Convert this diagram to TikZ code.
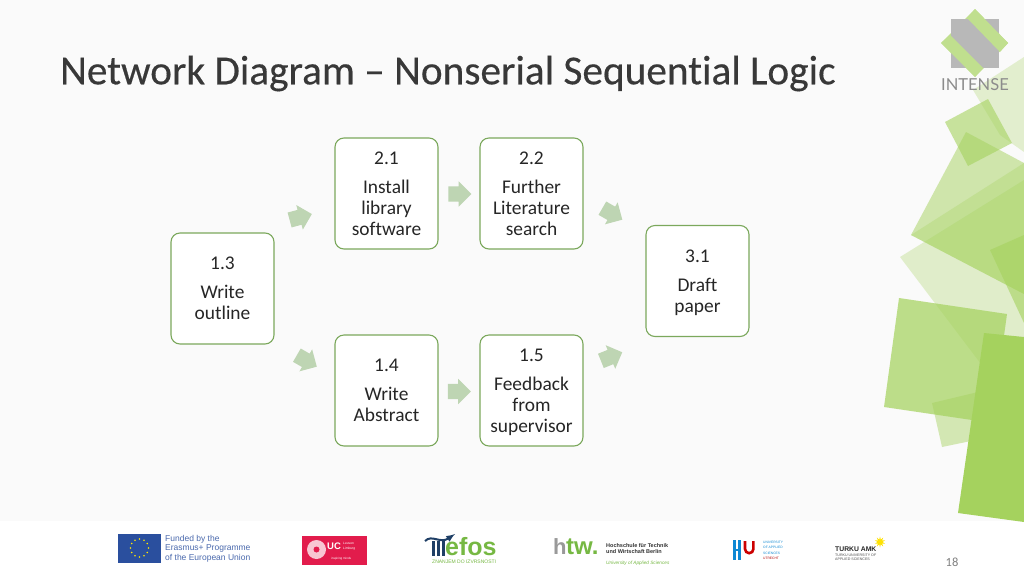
\documentclass[tikz,border=0pt]{standalone}
\usepackage{fontspec}
\setmainfont{Carlito}[Ligatures={TeX,NoCommon}]
\newfontfamily\titlefont{Carlito}[Ligatures={TeX,NoCommon},FakeBold=0.35]
\newfontfamily\logofont{Liberation Sans}
\newfontfamily\thinfont{Lato}
\usetikzlibrary{shapes.arrows,shapes.geometric,calc}
\definecolor{slidebg}{HTML}{FAFAFA}
\definecolor{boxgreen}{HTML}{7BA85C}
\definecolor{arrowgreen}{HTML}{BED5B3}
\definecolor{leafgreen}{HTML}{A5D25E}
\definecolor{eublue}{HTML}{2A4F9E}
\definecolor{ucred}{HTML}{E21C4C}
\definecolor{efosblue}{HTML}{1F3F66}
\definecolor{efosgreen}{HTML}{76B843}
\tikzset{
 stepbox/.style={draw=boxgreen,fill=white,rounded corners=9,line width=1.1,minimum width=103,minimum height=111,align=center,text=black!85,inner sep=0,font=\fontsize{19.4}{21}\selectfont},
 blockarrow/.style={single arrow,fill=arrowgreen,draw=none,minimum height=23,text height=15,text depth=0,text width=8,single arrow head extend=5,inner sep=0},
 leaf/.style={fill=#1,draw=none},
 logotext/.style={anchor=west,inner sep=0,font=\logofont\fontsize{#1}{#1}\selectfont},
}
\begin{document}
\begin{tikzpicture}[x=1pt,y=-1pt]
\useasboundingbox (0,0) rectangle (1024,576);
\fill[slidebg] (0,0) rectangle (1024,521);
\fill[white] (0,521) rectangle (1024,576);
% green leaves
\fill[leaf=leafgreen,opacity=0.28] (973,90) -- (1024,57) -- (1024,152) -- (1000,135) -- cycle;
\fill[leaf=leafgreen,opacity=0.3] (900,257) -- (1024,180) -- (1024,340) -- (984,333) -- (984,368) -- cycle;
\fill[leaf=leafgreen,opacity=0.5] (966,132) -- (1024,163) -- (1024,294) -- (911,235) -- cycle;
\fill[leaf=leafgreen,opacity=0.3] (911,235) -- (1024,163) -- (1024,294) -- cycle;
\fill[leaf=leafgreen,opacity=0.6] (988,99) -- (1012,143) -- (968,166) -- (945,122) -- cycle;
\fill[leaf=leafgreen,opacity=0.6] (990,250) -- (1024,235) -- (1024,323) -- cycle;
\fill[leaf=leafgreen,opacity=0.45] (932,403) -- (1024,381) -- (1024,430) -- (942,447) -- cycle;
\fill[leaf=leafgreen,opacity=0.72] (899,298) -- (1007,314) -- (992,423) -- (884,407) -- cycle;
\fill[leaf=leafgreen] (984,333) -- (1024,337) -- (1024,522) -- (958,513) -- cycle;
% logo
\fill[leaf=leafgreen!70] (975,9) -- (1008,43) -- (975,77) -- (941,43) -- cycle;
\fill[black!28] (951,19) rectangle (999,68);
\fill[leaf=leafgreen!70] (975,9) -- (1008,43) -- (1000,52) -- (967,18) -- cycle;
\fill[leaf=leafgreen!70] (941,43) -- (975,77) -- (983,68) -- (950,35) -- cycle;
\node[text=black!45,inner sep=0,font=\thinfont\fontsize{16.5}{16}\selectfont] (brand) at (975,84.5) {INTENSE};
% title
\node[anchor=west,inner sep=0,text=black!78,font=\titlefont\fontsize{41.3}{41}\selectfont] (title) at (60,73.5) {Network Diagram -- Nonserial Sequential Logic};
% steps
\node[stepbox] (b13) at (222.5,288.5) {1.3\\[8pt]Write\\outline};
\node[stepbox] (b21) at (386.5,193.5) {2.1\\[8pt]Install\\library\\software};
\node[stepbox] (b22) at (531.5,193.5) {2.2\\[8pt]Further\\Literature\\search};
\node[stepbox] (b31) at (697.5,281) {\rule{0pt}{17pt}3.1\\[8pt]Draft\\paper};
\node[stepbox] (b14) at (386.5,390.5) {1.4\\[8pt]Write\\Abstract};
\node[stepbox] (b15) at (531.5,390.5) {\rule{0pt}{17pt}1.5\\[8pt]Feedback\\from\\supervisor};
% arrows
\node[blockarrow,rotate=15] (a1) at (297,218) {};
\node[blockarrow] (a2) at (456,194) {};
\node[blockarrow,rotate=-30] (a3) at (609,212) {};
\node[blockarrow,rotate=-30] (a4) at (303.5,359) {};
\node[blockarrow] (a5) at (455.5,391.5) {};
\node[blockarrow,rotate=22] (a6) at (608,358) {};
% footer: EU
\fill[eublue] (118,534) rectangle (161,562.5);
\foreach \a in {0,30,...,330} \fill[yellow!90!orange] ($(139.5,548)+(\a:9)$) circle (0.9);
\node[logotext=8.5,text=eublue!85] (eua) at (165,539) {Funded by the};
\node[logotext=8.5,text=eublue!85] (eub) at (165,548.5) {Erasmus+ Programme};
\node[logotext=8.5,text=eublue!85] (euc) at (165,558) {of the European Union};
% footer: UC
\fill[ucred] (301.5,535.5) rectangle (366.5,564.5);
\fill[white!75!ucred] (316.5,549.5) circle (9.5);
\fill[ucred] (316.5,549.5) circle (3);
\node[logotext=10,text=white,font=\logofont\bfseries\fontsize{9.5}{9.5}\selectfont] (uc) at (327,546.5) {UC};
\node[logotext=3.3,text=white] (ucb) at (343,543.5) {Leuven};
\node[logotext=3.3,text=white] (ucc) at (343,549) {Limburg};
\node[logotext=3,text=white] (ucd) at (331,559) {inspiring minds};
% footer: efos
\draw[-latex,efosblue,line width=2] (425,541) .. controls (432,534) and (440,544) .. (455,534);
\foreach \x in {432,437,442} \fill[efosblue] (\x,541) rectangle (\x+2.5,556);
\node[logotext=27,text=efosgreen,font=\logofont\bfseries\fontsize{25}{25}\selectfont] (efos) at (445,546.5) {efos};
\node[logotext=5,text=efosgreen] (efosb) at (432,562) {ZNANJEM DO IZVRSNOSTI};
% footer: htw
\node[logotext=20,text=black!40,font=\logofont\bfseries\fontsize{22}{22}\selectfont] (htwh) at (553,547) {h};
\node[logotext=20,text=efosgreen,font=\logofont\bfseries\fontsize{24}{24}\selectfont] (htwt) at (566,547) {tw.};
\node[logotext=5.5,text=black!80,font=\logofont\bfseries\fontsize{5.5}{5.5}\selectfont] (htwa) at (606,545.5) {Hochschule für Technik};
\node[logotext=5.5,text=black!80,font=\logofont\bfseries\fontsize{5.5}{5.5}\selectfont] (htwb) at (606,552) {und Wirtschaft Berlin};
\node[logotext=5,text=efosgreen,font=\logofont\itshape\fontsize{4.7}{4.7}\selectfont] (htwc) at (606,563) {University of Applied Sciences};
% footer: HU
\fill[cyan!70!blue] (732.5,540) rectangle (735.5,560);
\fill[cyan!70!blue] (738,540) rectangle (741,560);
\fill[cyan!70!blue] (735,549) rectangle (738,551);
\draw[red!80!black,line width=2.6] (745,541) -- (745,549) arc[start angle=180,end angle=0,radius=4.2] -- (753.4,541);
\node[logotext=3.3,text=cyan!70!blue] (hua) at (763,542) {UNIVERSITY};
\node[logotext=3.3,text=cyan!70!blue] (hub) at (763,547.5) {OF APPLIED};
\node[logotext=3.3,text=cyan!70!blue] (huc) at (763,553) {SCIENCES};
\node[logotext=3.3,text=red!70!black] (hud) at (763,558) {UTRECHT};
% footer: Turku
\node[logotext=8,text=black!85,font=\logofont\bfseries\fontsize{6.8}{6.8}\selectfont] (tka) at (835,549.5) {TURKU AMK};
\node[logotext=3.6,text=black!70] (tkb) at (835,555) {TURKU UNIVERSITY OF};
\node[logotext=3.6,text=black!70] (tkc) at (835,559) {APPLIED SCIENCES};
\node[star,star points=10,star point ratio=2.2,fill=yellow!85!orange,inner sep=0,minimum size=11] (sun) at (880,542) {};
\node[text=black!50,inner sep=0,font=\fontsize{12.5}{12}\selectfont] (page) at (952,562) {18};
\end{tikzpicture}
\end{document}
